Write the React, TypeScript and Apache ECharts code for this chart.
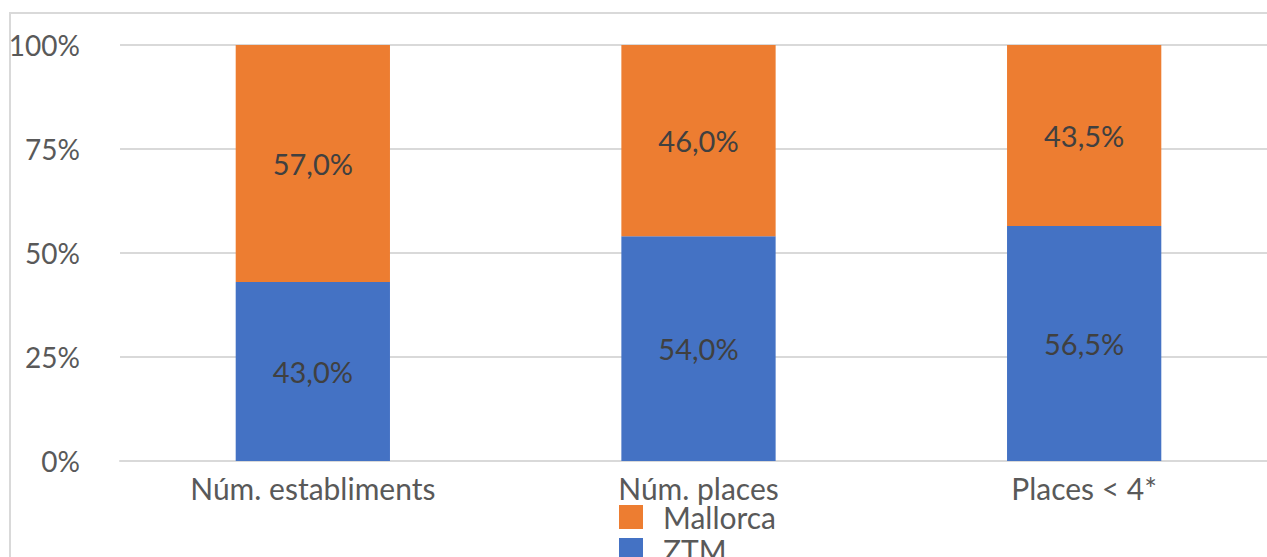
import React, { useEffect, useRef } from "react";
import * as echarts from "echarts";

const categories = ["Núm. establiments", "Núm. places", "Places < 4*"];
const ztmValues = [43.0, 54.0, 56.5];
const mallorcaValues = [57.0, 46.0, 43.5];
const yTicks = [0, 25, 50, 75, 100];

const FONT = "Lato";
const TEXT = "#595959";
const LABEL = "#404040";
const GRIDC = "#d9d9d9";

const fmt = (v: number) => v.toFixed(1).replace(".", ",") + "%";

const legendBase = {
  orient: "vertical",
  left: 619,
  itemWidth: 24,
  itemHeight: 24,
  icon: "rect",
  padding: 0,
  textStyle: { fontFamily: FONT, fontSize: 30, color: TEXT, padding: [0, 0, 0, 15] },
};

export default function App() {
  const ref = useRef<HTMLDivElement>(null);
  useEffect(() => {
    if (!ref.current) return;
    document.body.style.overflow = "hidden";
    const chart = echarts.init(ref.current, undefined, { renderer: "svg" });
    chart.setOption({
      animation: false,
      backgroundColor: "#ffffff",
      textStyle: { fontFamily: FONT },
      graphic: [
        {
          type: "rect",
          shape: { x: 10, y: 13, width: 1400, height: 700 },
          style: { fill: "none", stroke: GRIDC, lineWidth: 2 },
          silent: true,
          z: -10,
        },
      ],
      grid: { left: 120, right: 3, top: 45, bottom: 96 },
      legend: [
        { ...legendBase, top: 502, data: ["Mallorca"] },
        { ...legendBase, top: 535, data: ["ZTM"] },
      ],
      xAxis: {
        type: "category",
        data: categories,
        axisLine: { show: true, lineStyle: { color: GRIDC, width: 2 } },
        axisTick: { show: false },
        axisLabel: { fontFamily: FONT, fontSize: 30, color: TEXT, margin: 12 },
      },
      yAxis: {
        type: "value",
        min: yTicks[0],
        max: yTicks[yTicks.length - 1],
        interval: 25,
        axisLine: { show: false },
        axisTick: { show: false },
        splitLine: { lineStyle: { color: GRIDC, width: 2 } },
        axisLabel: {
          fontFamily: FONT,
          fontSize: 28,
          color: TEXT,
          margin: 40,
          formatter: (v: number) => v + "%",
        },
      },
      series: [
        {
          name: "ZTM",
          type: "bar",
          stack: "total",
          data: ztmValues,
          barWidth: "40%",
          itemStyle: { color: "#4472C4" },
          label: {
            show: true,
            position: "inside",
            fontFamily: FONT,
            fontSize: 29,
            color: LABEL,
            formatter: (p: any) => fmt(p.value),
          },
        },
        {
          name: "Mallorca",
          type: "bar",
          stack: "total",
          data: mallorcaValues,
          barWidth: "40%",
          itemStyle: { color: "#ED7D31" },
          label: {
            show: true,
            position: "inside",
            fontFamily: FONT,
            fontSize: 29,
            color: LABEL,
            formatter: (p: any) => fmt(p.value),
          },
        },
      ],
    });
    return () => chart.dispose();
  }, []);
  return (
    <div
      ref={ref}
      style={{ position: "fixed", left: 0, top: 0, width: 1280, height: 557 }}
    />
  );
}
